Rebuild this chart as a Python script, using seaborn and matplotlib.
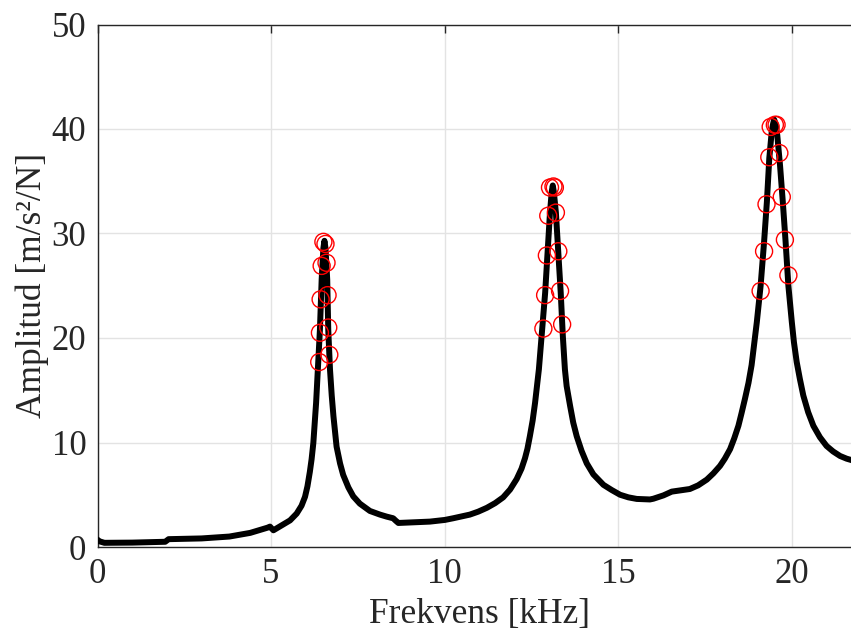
import numpy as np
import pandas as pd
import matplotlib
matplotlib.use("Agg")
import matplotlib.pyplot as plt
import seaborn as sns

# Frequency response curve (kHz, m/s^2/N)
freq = [0.0, 0.05, 0.2, 1.0, 1.95, 2.05, 3.0, 3.8, 4.4, 4.9, 4.97, 5.07, 5.35,
        5.55, 5.74, 5.88, 5.98, 6.05, 6.12, 6.17, 6.22, 6.30, 6.36, 6.41, 6.46,
        6.51, 6.54, 6.57, 6.62, 6.65, 6.70, 6.75, 6.80, 6.89, 6.99, 7.08, 7.23,
        7.37, 7.56, 7.85, 8.14, 8.33, 8.52, 8.60, 8.67, 9.0, 9.58, 10.01, 10.25,
        10.73, 10.97, 11.22, 11.46, 11.69, 11.89, 12.08, 12.22, 12.32, 12.39,
        12.46, 12.54, 12.61, 12.72, 12.80, 12.90, 12.97, 13.04, 13.09, 13.12,
        13.15, 13.21, 13.28, 13.35, 13.41, 13.47, 13.52, 13.62, 13.71, 13.81,
        13.95, 14.10, 14.29, 14.58, 14.82, 15.06, 15.30, 15.54, 15.92, 16.02,
        16.31, 16.55, 16.79, 17.07, 17.31, 17.56, 17.75, 17.94, 18.08, 18.23,
        18.35, 18.47, 18.56, 18.66, 18.76, 18.85, 18.92, 19.00, 19.11, 19.21,
        19.29, 19.36, 19.43, 19.47, 19.50, 19.54, 19.59, 19.67, 19.75, 19.83,
        19.91, 20.01, 20.07, 20.15, 20.24, 20.34, 20.48, 20.63, 20.82, 21.01,
        21.20, 21.40, 21.59, 21.72, 22.0]
amp = [0.7, 0.55, 0.4, 0.42, 0.5, 0.75, 0.82, 1.0, 1.35, 1.85, 1.95, 1.6, 2.15,
       2.55, 3.2, 3.95, 4.8, 5.8, 7.2, 8.4, 9.95, 13.8, 17.6, 20.8, 25.6,
       28.6, 29.3, 28.6, 25.6, 20.8, 17.0, 14.5, 12.5, 9.6, 8.0, 6.9, 5.7,
       4.85, 4.15, 3.45, 3.1, 2.91, 2.75, 2.5, 2.3, 2.35, 2.43, 2.59, 2.75,
       3.1, 3.38, 3.75, 4.2, 4.75, 5.5, 6.5, 7.5, 8.5, 9.4,
       10.6, 12.1, 13.8, 17.0, 20.2, 24.3, 28.2, 32.0, 34.0, 34.6,
       34.0, 32.0, 28.2, 24.3, 20.2, 17.0, 15.4, 13.5, 11.9, 10.6,
       9.2, 8.0, 6.95, 5.95, 5.45, 5.0, 4.75, 4.6, 4.55, 4.62,
       4.94, 5.3, 5.42, 5.55, 5.9, 6.45, 7.05, 7.76, 8.46, 9.36,
       10.4, 11.6, 12.8, 14.2, 15.7, 17.4, 19.3, 21.5, 25.0, 29.2,
       33.0, 37.2, 39.75, 40.5, 40.9, 40.5, 39.4, 36.5, 33.0, 29.2,
       25.0, 21.5, 19.6, 17.7, 16.1, 14.5, 12.9, 11.6, 10.5, 9.67,
       9.14, 8.71, 8.45, 8.33, 8.0]

# Measured points (red circles)
pts_freq = [6.51, 6.46, 6.43, 6.41, 6.39, 6.57, 6.60, 6.63, 6.65, 6.68,
            13.04, 13.14, 13.18, 12.99, 13.21, 12.95, 13.28, 12.90, 13.33, 12.85, 13.39,
            19.40, 19.52, 19.57, 19.36, 19.65, 19.28, 19.72, 19.21, 19.81, 19.11, 19.91]
pts_amp = [29.2, 26.9, 23.7, 20.5, 17.7, 29.0, 27.2, 24.1, 21.0, 18.4,
           34.4, 34.5, 34.4, 31.7, 32.0, 27.9, 28.3, 24.1, 24.5, 20.9, 21.3,
           40.2, 40.4, 40.4, 37.3, 37.7, 32.8, 33.5, 28.3, 29.4, 24.5, 26.0]

x_ticks = [0, 5, 10, 15, 20]
y_ticks = [0, 10, 20, 30, 40, 50]
x_label = "Frekvens [kHz]"
y_label = "Amplitud [m/s²/N]"

sns.set_style("white")
plt.rcParams["font.family"] = ["Liberation Serif", "DejaVu Serif"]

curve = pd.DataFrame({"f": freq, "a": amp})
pts = pd.DataFrame({"f": pts_freq, "a": pts_amp})

fig = plt.figure(figsize=(8.51, 6.35), dpi=100)
# axes extends past the right edge of the figure (cropped like the reference)
ax = fig.add_axes([97.5 / 851, 88 / 635, 22 * 34.7 / 851, 522.5 / 635])

ax.grid(True, color="#e3e3e3", linewidth=1.0, zorder=0)
ax.set_axisbelow(True)

sns.lineplot(data=curve, x="f", y="a", ax=ax, color="black", linewidth=4.3,
             sort=False, estimator=None, solid_joinstyle="round",
             solid_capstyle="round", zorder=3)
sns.scatterplot(data=pts, x="f", y="a", ax=ax, marker="o", s=150,
                facecolor="none", edgecolor="red", linewidth=1.0, zorder=4)

ax.set_xlim(0, 22)
ax.set_ylim(0, 50)
ax.set_xticks(x_ticks)
ax.set_yticks(y_ticks)
ax.tick_params(direction="in", length=6, width=1, color="#262626",
               labelsize=25, labelcolor="#262626", top=True, right=True,
               pad=8)
for s in ax.spines.values():
    s.set_visible(True)
    s.set_color("#262626")
    s.set_linewidth(1.0)

ax.set_xlabel(x_label, fontsize=25.5, color="#262626", labelpad=5)
ax.set_ylabel(y_label, fontsize=25.5, color="#262626", labelpad=2)

fig.savefig("out.png", dpi=100)
